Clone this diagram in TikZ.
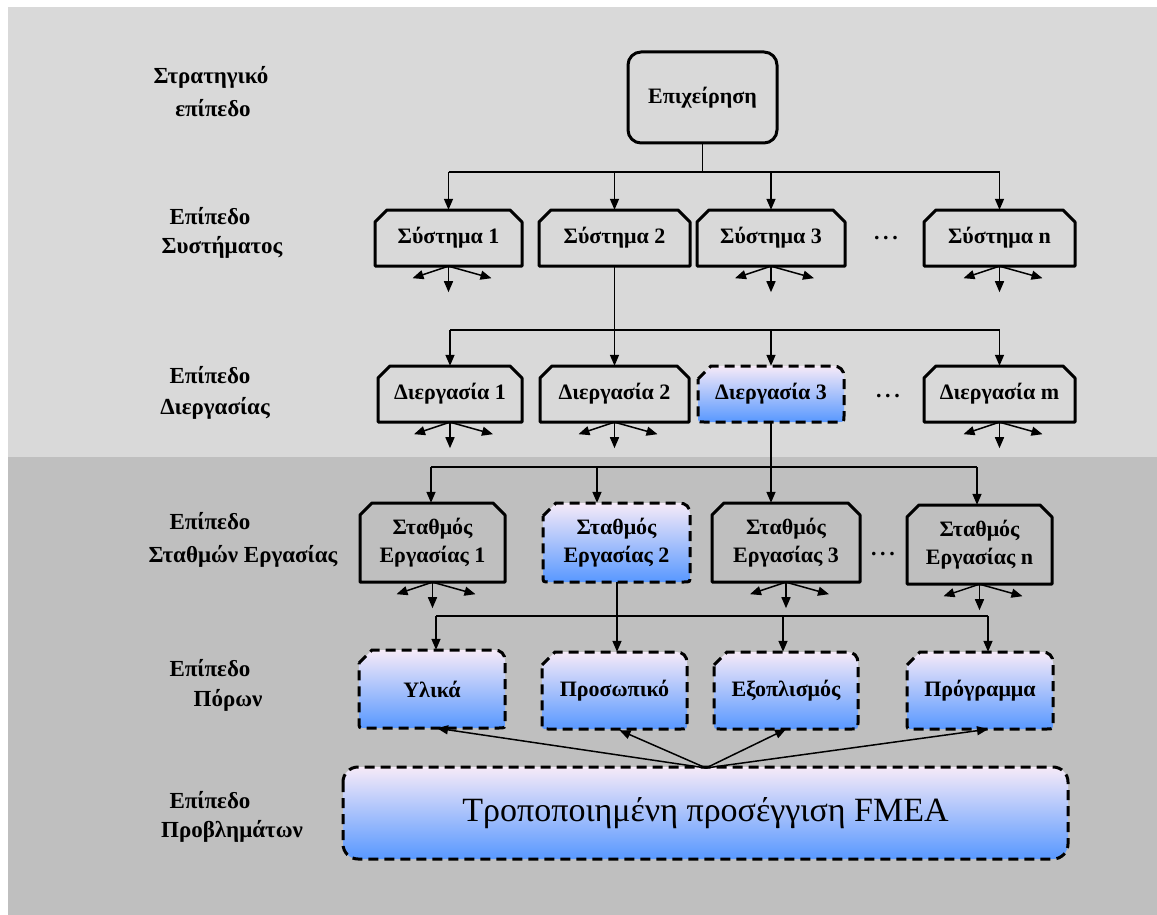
\documentclass[tikz,border=0pt]{standalone}
\usepackage{fontspec}
\setmainfont{Liberation Serif}
\usetikzlibrary{arrows.meta,calc}

\definecolor{bgtop}{RGB}{217,217,217}
\definecolor{bgbot}{RGB}{191,191,191}
\definecolor{gradtop}{RGB}{246,234,248}
\definecolor{gradmid}{RGB}{160,200,248}
\definecolor{gradbot}{RGB}{88,152,255}

\tikzset{
  boxline/.style={draw=black, line width=3pt, line join=round},
  gradbox/.style={draw=black, line width=3pt, dash pattern=on 10pt off 6pt,
    top color=gradtop, middle color=gradmid, bottom color=gradbot},
  boxtext/.style={inner sep=0pt, align=center, font=\fontsize{22}{28}\selectfont\bfseries},
  lvl/.style={inner sep=0pt, font=\fontsize{23}{28}\selectfont\bfseries},
  conn/.style={draw=black, line width=1.5pt},
  arr/.style={conn, -{Triangle[length=11pt,width=9pt]}},
  dots/.style={inner sep=0pt, font=\fontsize{22}{26}\selectfont\bfseries}
}

% box with both upper corners cut off; #1 name, #2..#5 corners, #6 text
\newcommand\chambox[6]{%
  \draw[boxline] (#2,{#3+12}) -- ({#2+12},#3) -- ({#4-12},#3) -- (#4,{#3+12})
    -- (#4,#5) -- (#2,#5) -- cycle;
  \node[boxtext, minimum width={#4pt-#2pt}, minimum height={#5pt-#3pt}]
    (#1) at ({(#2+#4)/2},{(#3+#5)/2}) {#6};
}
% shaded dashed box, upper left corner cut, other corners rounded
\newcommand\snipbox[6]{%
  \path[gradbox] (#2,{#3+13}) -- ({#2+13},#3) -- ({#4-11},#3)
    .. controls ({#4-4},#3) and (#4,{#3+4}) .. (#4,{#3+11})
    -- (#4,{#5-6}) .. controls (#4,#5) .. ({#4-6},#5)
    -- ({#2+6},#5) .. controls (#2,#5) .. (#2,{#5-6}) -- cycle;
  \node[boxtext, minimum width={#4pt-#2pt}, minimum height={#5pt-#3pt}]
    (#1) at ({(#2+#4)/2},{(#3+#5)/2}) {#6};
}
% three short arrows spreading out under a box
\newcommand\fan[1]{%
  \coordinate (#1-l) at ($(#1.south)+(-36,12)$);
  \coordinate (#1-r) at ($(#1.south)+(43,12)$);
  \coordinate (#1-d) at ($(#1.south)+(0,26)$);
  \draw[arr] (#1.south) -- (#1-l);
  \draw[arr] (#1.south) -- (#1-r);
  \draw[arr] (#1.south) -- (#1-d);
}

\begin{document}
\begin{tikzpicture}[x=1pt,y=-1pt]
\useasboundingbox (0,0) rectangle (1157,915);
\fill[bgtop] (8,7) rectangle (1157,457);
\fill[bgbot] (8,457) rectangle (1157,915);

% level labels
\node[lvl] (l1a) at (211,77) {Στρατηγικό};
\node[lvl] (l1b) at (213,108) {επίπεδο};
\node[lvl] (l2a) at (210,216) {Επίπεδο};
\node[lvl] (l2b) at (222,247) {Συστήματος};
\node[lvl] (l3a) at (210,375) {Επίπεδο};
\node[lvl] (l3b) at (215,408) {Διεργασίας};
\node[lvl] (l4a) at (210,521) {Επίπεδο};
\node[lvl] (l4b) at (243,556) {Σταθμών Εργασίας};
\node[lvl] (l5a) at (210,668) {Επίπεδο};
\node[lvl] (l5b) at (228,700) {Πόρων};
\node[lvl] (l6a) at (210,800) {Επίπεδο};
\node[lvl] (l6b) at (232,831) {Προβλημάτων};

% enterprise
\node[boxline, rounded corners=13pt, boxtext, minimum width=149pt, minimum height=91pt]
  (E) at (702.5,97.5) {Επιχείρηση};

% systems
\chambox{S1}{375}{210}{522}{266}{Σύστημα 1}
\chambox{S2}{539}{210}{690}{266}{Σύστημα 2}
\chambox{S3}{697}{210}{845}{266}{Σύστημα 3}
\chambox{Sn}{924}{210}{1075}{266}{Σύστημα n}
\node[dots] (d1) at (886,238) {.\,.\,.};

% processes
\chambox{P1}{378}{366}{522}{422}{Διεργασία 1}
\chambox{P2}{540}{366}{689}{422}{Διεργασία 2}
\snipbox{P3}{698}{366}{844}{422}{Διεργασία 3}
\chambox{Pm}{924}{366}{1075}{422}{Διεργασία m}
\node[dots] (d2) at (888,396) {.\,.\,.};

% work stations
\chambox{W1}{360}{503}{505}{582}{Σταθμός\\Εργασίας 1}
\snipbox{W2}{543}{503}{690}{582}{Σταθμός\\Εργασίας 2}
\chambox{W3}{712}{503}{860}{582}{Σταθμός\\Εργασίας 3}
\chambox{Wn}{907}{505}{1052}{584}{Σταθμός\\Εργασίας n}
\node[dots] (d3) at (883,554) {.\,.\,.};

% resources
\snipbox{R1}{359}{650}{505}{728}{Υλικά}
\snipbox{R2}{542}{652}{687}{729}{Προσωπικό}
\snipbox{R3}{714}{652}{858}{729}{Εξοπλισμός}
\snipbox{R4}{907}{652}{1053}{729}{Πρόγραμμα}

% problems
\path[gradbox, rounded corners=15pt] (343,767) rectangle (1068,859);
\node[inner sep=0pt, font=\fontsize{34}{39}\selectfont, minimum width=725pt, minimum height=92pt]
  (B) at (705.5,813) {Τροποποιημένη προσέγγιση FMEA};

% enterprise -> systems
\coordinate (busA) at (702.5,172);
\draw[conn] (E.south) -- (busA);
\draw[conn] (busA -| S1) -- (busA -| Sn);
\foreach \n in {S1,S2,S3,Sn} \draw[arr] (busA -| \n) -- (\n.north);

% system 2 -> processes
\coordinate (busB) at (614.5,330);
\draw[conn] (S2.south) -- (busB);
\draw[conn] (busB -| P1) -- (busB -| Pm);
\foreach \n in {P1,P2,P3,Pm} \draw[arr] (busB -| \n) -- (\n.north);

% process 3 -> work stations
\coordinate (busC) at (771,467);
\coordinate (c1) at (431,467);
\coordinate (c2) at (597,467);
\coordinate (c4) at (977,467);
\draw[conn] (P3.south) -- (busC);
\draw[conn] (c1) -- (c4);
\draw[arr] (c1) -- (c1 |- W1.north);
\draw[arr] (c2) -- (c2 |- W2.north);
\draw[arr] (busC) -- (busC |- W3.north);
\draw[arr] (c4) -- (c4 |- Wn.north);

% work station 2 -> resources
\coordinate (busD) at (617,616);
\coordinate (e1) at (436,616);
\coordinate (e3) at (783,616);
\coordinate (e4) at (988,616);
\draw[conn] (W2.south -| busD) -- (busD);
\draw[conn] (e1) -- (e4);
\draw[arr] (e1) -- (e1 |- R1.north);
\draw[arr] (busD) -- (busD |- R2.north);
\draw[arr] (e3) -- (e3 |- R3.north);
\draw[arr] (e4) -- (e4 |- R4.north);

% problems -> resources
\coordinate (hub) at (706,768);
\draw[arr] (hub) -- ($(R1.south)+(5,0)$);
\draw[arr] (hub) -- ($(R2.south)+(5,1)$);
\draw[arr] (hub) -- (R3.south);
\draw[arr] (hub) -- ($(R4.south)+(8,0)$);

% downward spreads
\foreach \n in {S1,S3,Sn,P1,P2,Pm,W1,W3,Wn} {\fan{\n}}
\end{tikzpicture}
\end{document}
